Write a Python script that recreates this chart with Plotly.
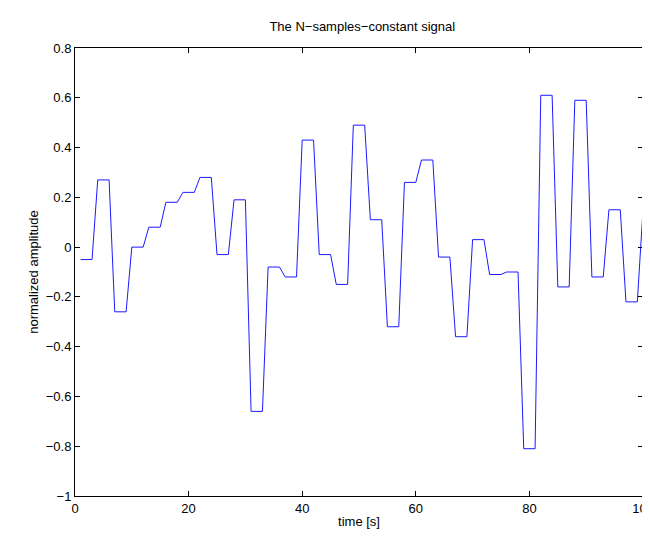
import numpy as np
import plotly.graph_objects as go

levels = [-0.05, 0.27, -0.26, 0.0, 0.08, 0.18, 0.22, 0.28, -0.03, 0.19,
          -0.66, -0.08, -0.12, 0.43, -0.03, -0.15, 0.49, 0.11, -0.32, 0.26,
          0.35, -0.04, -0.36, 0.03, -0.11, -0.10, -0.81, 0.61, -0.16, 0.59,
          -0.12, 0.15, -0.22, 0.15]
hold = 3
t = np.arange(1, 101)
y = np.repeat(levels, hold)[:len(t)]

ytick_vals = [0.8, 0.6, 0.4, 0.2, 0, -0.2, -0.4, -0.6, -0.8, -1]
ytick_text = ["0.8", "0.6", "0.4", "0.2", "0", "\u22120.2", "\u22120.4", "\u22120.6", "\u22120.8", "\u22121"]

fig = go.Figure(go.Scatter(x=t, y=y, mode="lines", line=dict(color="#1a1aff", width=1)))
ax = dict(showgrid=False, zeroline=False, showline=True, mirror="ticks", linecolor="black",
          ticks="inside", ticklen=5, tickcolor="black", tickfont=dict(size=13, color="black"),
          automargin=False)
fig.update_layout(
    width=650, height=537, plot_bgcolor="white", paper_bgcolor="white",
    margin=dict(l=67, r=15, t=40, b=49),
    font=dict(family="Liberation Sans, Arial", color="black"),
    title=dict(text="The N\u2212samples\u2212constant signal", x=0.545, xanchor="center", y=0.975,
               font=dict(size=13, color="black")),
    xaxis=dict(range=[0, 100], dtick=20, title=dict(text="time [s]", font=dict(size=13), standoff=2), **ax),
    yaxis=dict(range=[-1, 0.8], tickvals=ytick_vals, ticktext=ytick_text,
               title=dict(text="normalized amplitude", font=dict(size=13), standoff=4), **ax),
    showlegend=False,
)
fig.write_html("out.html")
